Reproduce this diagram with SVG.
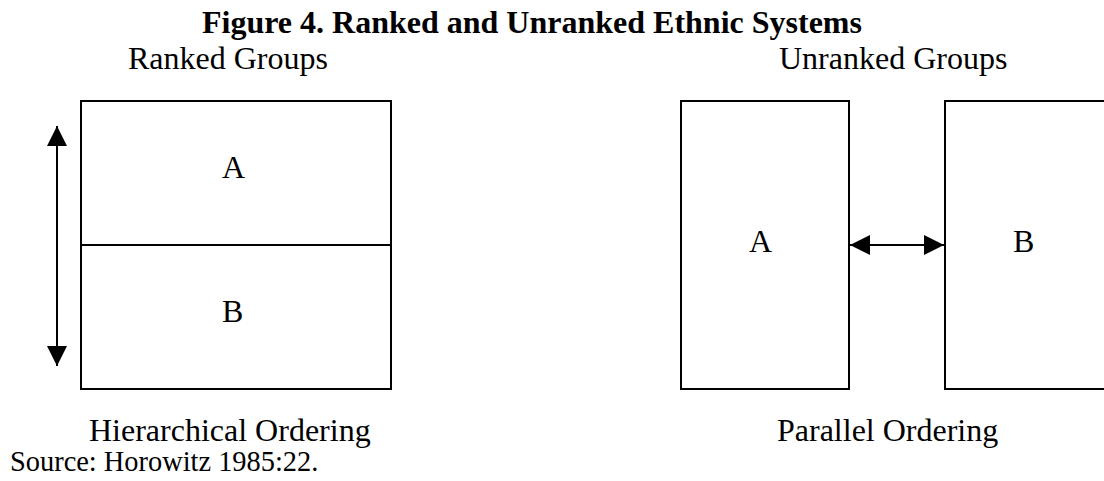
<svg xmlns="http://www.w3.org/2000/svg" width="1104" height="481" viewBox="0 0 1104 481">
<style>
text{font-family:"Liberation Serif","Times New Roman",serif;font-size:32px;fill:#000}
.title{font-weight:bold}
.small{font-size:28.4px}
.box{fill:none;stroke:#000;stroke-width:2}
.conn{stroke:#000;stroke-width:2;fill:none}
</style>
<defs>
<marker id="ah" markerWidth="20" markerHeight="20" viewBox="0 0 20 20" refX="20" refY="10" orient="auto-start-reverse" markerUnits="userSpaceOnUse">
<path d="M0,0 L20,10 L0,20 Z" fill="#000"/>
</marker>
</defs>
<rect width="1104" height="481" fill="#fff"/>
<text class="title" x="202" y="33">Figure 4. Ranked and Unranked Ethnic Systems</text>
<text x="128" y="69">Ranked Groups</text>
<text x="779" y="69">Unranked Groups</text>
<g id="ranked-A">
<rect class="box" x="81" y="101" width="310" height="144"/>
<text x="222" y="178">A</text>
</g>
<g id="ranked-B">
<rect class="box" x="81" y="245" width="310" height="144"/>
<text x="222" y="322">B</text>
</g>
<g id="unranked-A">
<rect class="box" x="681" y="101" width="168" height="288"/>
<text x="749" y="252">A</text>
</g>
<g id="unranked-B">
<rect class="box" x="945" y="101" width="170" height="288"/>
<text x="1013" y="252">B</text>
</g>
<g id="connectors">
<line class="conn" x1="57" y1="126" x2="57" y2="366" marker-start="url(#ah)" marker-end="url(#ah)"/>
<line class="conn" x1="850" y1="245" x2="944" y2="245" marker-start="url(#ah)" marker-end="url(#ah)"/>
</g>
<text x="89" y="441">Hierarchical Ordering</text>
<text x="777" y="441">Parallel Ordering</text>
<text class="small" x="10" y="471">Source: Horowitz 1985:22.</text>
</svg>
